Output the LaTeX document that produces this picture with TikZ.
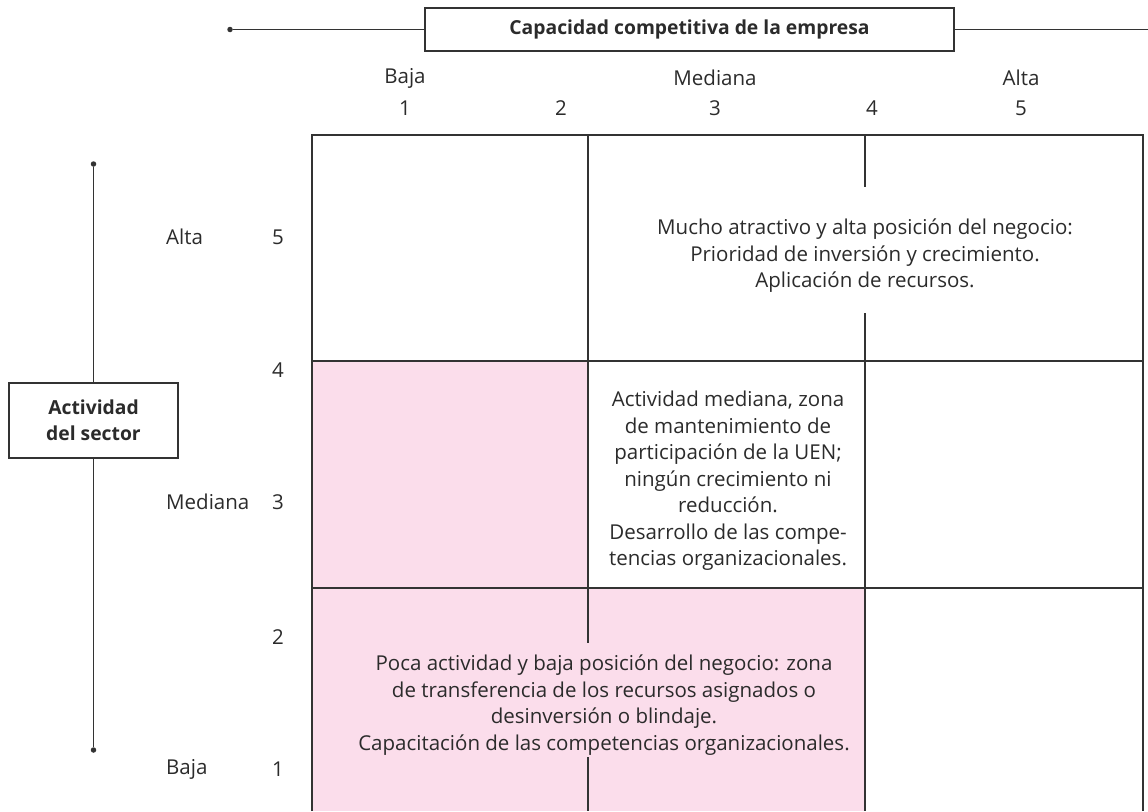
\documentclass[tikz,border=0pt]{standalone}
\usepackage{fontspec}
\setmainfont{Open Sans}
\definecolor{ink}{HTML}{2B2B2B}
\definecolor{rule}{HTML}{333333}
\definecolor{rosa}{HTML}{FBDDEB}
\begin{document}
\begin{tikzpicture}[x=1pt,y=-1pt,
  every node/.style={text=ink},
  lbl/.style={font=\fontsize{20.5}{24}\selectfont, inner sep=0pt},
  zone/.style={font=\fontsize{20.5}{26.5}\selectfont, align=center, inner sep=0pt},
  grid line/.style={draw=rule, line width=1.6pt},
  axis line/.style={draw=rule, line width=1.3pt},
  titlebox/.style={draw=rule, line width=1.3pt, fill=white, font=\bfseries\fontsize{19.3}{22}\selectfont, align=center, inner sep=0pt},
  pin/.style={circle, fill=rule, inner sep=0pt, minimum size=5.5pt}
]
\useasboundingbox (0,0) rectangle (1148,811);

% shaded zones
\fill[rosa] (312,361) rectangle (588,588);
\fill[rosa] (312,588) rectangle (865,811);

% matrix frame and partitions
\draw[grid line] (312,811) -- (312,135) -- (1143,135) -- (1143,811);
\draw[grid line] (312,361) -- (1143,361);
\draw[grid line] (312,588) -- (1143,588);
\draw[grid line] (588,135) -- (588,588);
\draw[grid line] (865,361) -- (865,811);
\draw[grid line] (865,135) -- (865,187);
\draw[grid line] (865,313) -- (865,361);
\draw[grid line] (588,588) -- (588,643);
\draw[grid line] (588,757) -- (588,811);

% horizontal axis title
\node[titlebox, minimum width=529pt, minimum height=43pt] (hdr) at (689.5,29.5) {Capacidad competitiva de la empresa};
\node[pin] (hl) at (230,29.5) {};
\coordinate (hr) at (1148,29.5);
\draw[axis line] (hl) -- (hdr.west);
\draw[axis line] (hdr.east) -- (hr);

% vertical axis title
\node[titlebox, minimum width=169pt, minimum height=75pt, font=\bfseries\fontsize{19.3}{26}\selectfont] (side) at (93.5,420.5) {Actividad\\del sector};
\node[pin] (vt) at (93.5,164) {};
\node[pin] (vb) at (93.5,750) {};
\draw[axis line] (vt) -- (side.north);
\draw[axis line] (side.south) -- (vb);

% column scale
\node[lbl] (cb) at (405,78) {Baja};
\node[lbl] (c1) at (405,108) {1};
\node[lbl] (c2) at (561,108) {2};
\node[lbl] (cm) at (715,78) {Mediana};
\node[lbl] (c3) at (715,108) {3};
\node[lbl] (c4) at (872,108) {4};
\node[lbl] (ca) at (1021,78) {Alta};
\node[lbl] (c5) at (1021,108) {5};

% row scale
\node[lbl, anchor=west] (ra) at (166,237) {Alta};
\node[lbl] (r5) at (278,237) {5};
\node[lbl] (r4) at (278,370) {4};
\node[lbl, anchor=west] (rm) at (166,502) {Mediana};
\node[lbl] (r3) at (278,502) {3};
\node[lbl] (r2) at (278,637) {2};
\node[lbl, anchor=west] (rb) at (166,769) {Baja};
\node[lbl] (r1) at (278,769) {1};

% zone descriptions
\node[zone] (zhigh) at (865,256) {Mucho atractivo y alta posición del negocio:\\Prioridad de inversión y crecimiento.\\Aplicación de recursos.};
\node[zone] (zmid) at (728,481) {Actividad mediana, zona\\de mantenimiento de\\participación de la UEN;\\ningún crecimiento ni\\reducción.\\Desarrollo de las compe-\\tencias organizacionales.};
\node[zone] (zlow) at (604,705) {Poca actividad y baja posición del negocio: zona\\de transferencia de los recursos asignados o\\desinversión o blindaje.\\Capacitación de las competencias organizacionales.};
\end{tikzpicture}
\end{document}
